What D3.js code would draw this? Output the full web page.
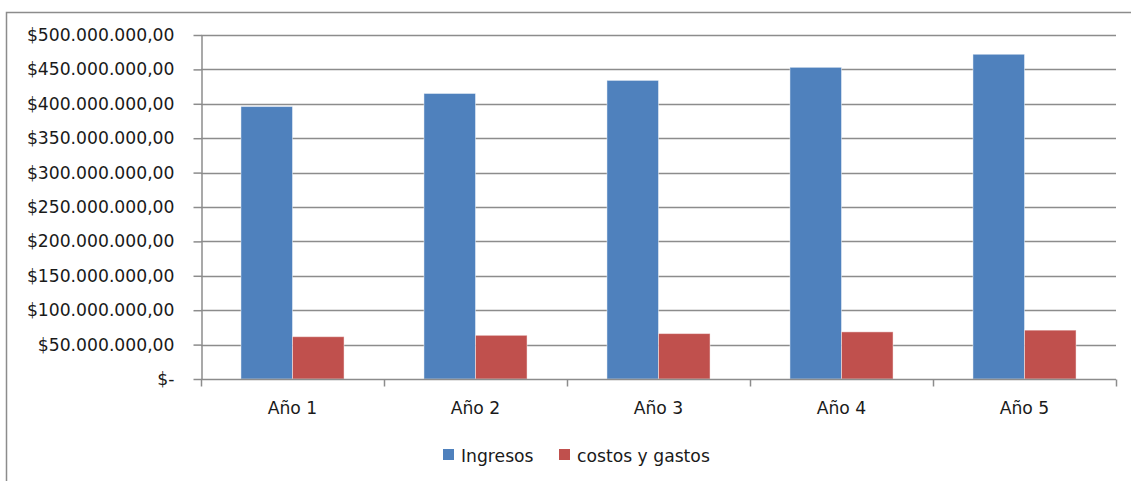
<!DOCTYPE html>
<html>
<head>
<meta charset="utf-8">
<script src="https://cdn.jsdelivr.net/npm/d3@7"></script>
<style>
  body { margin: 0; background: #fff; }
  text { font-family: "DejaVu Sans", sans-serif; fill: #1a1a1a; }
</style>
</head>
<body>
<div id="chart"></div>
<script>
    // data
    var years = ["Año 1", "Año 2", "Año 3", "Año 4", "Año 5"];
    var ingresos = [396000000, 415000000, 434000000, 453000000, 472000000];
    var costos = [61500000, 63500000, 66000000, 68500000, 71000000];
    var seriesNames = ["Ingresos", "costos y gastos"];
    var yTicks = [0, 50000000, 100000000, 150000000, 200000000, 250000000, 300000000, 350000000, 400000000, 450000000, 500000000];

    var colors = {"Ingresos": "#4f81bd", "costos y gastos": "#c0504d"};

    var data = years.map(function(y, i) {
        return {group: y, "Ingresos": ingresos[i], "costos y gastos": costos[i]};
    });

    var W = 1131, H = 481;
    var margin = {top: 35, right: 15, bottom: 102, left: 201};
    var fontSize = "17.2px";

    var svg = d3.select("#chart")
        .append("svg")
        .attr("width", W)
        .attr("height", H);

    // outer frame (only left and top show in the picture)
    svg.append("rect")
        .attr("x", 6.5).attr("y", 12.5)
        .attr("width", W + 20).attr("height", H + 20)
        .attr("fill", "none")
        .attr("stroke", "#8c8c8c")
        .attr("stroke-width", 1.5);

    var y = d3.scaleLinear()
        .domain([0, 500000000])
        .range([379, margin.top]);

    var x0 = d3.scaleBand()
        .domain(years)
        .range([margin.left, W - margin.right])
        .padding(0);

    // excel style gap width of 150%
    var bw = x0.bandwidth() / (2 + 1.55);
    var x1 = d3.scaleBand()
        .domain(seriesNames)
        .range([bw * 0.775, x0.bandwidth() - bw * 0.775]);

    // money format: $500.000.000,00 and $- at zero
    var fmt = function(v) {
        if (v === 0) return "$-";
        var s = d3.format(",.2f")(v);
        return "$" + s.replace(/,/g, "#").replace(".", ",").replace(/#/g, ".");
    };

    // gridlines
    svg.append("g")
        .selectAll("line")
        .data(yTicks.filter(function(d) { return d > 0; }))
        .enter().append("line")
        .attr("x1", margin.left)
        .attr("x2", W - margin.right)
        .attr("y1", function(d) { return Math.round(y(d)) + 0.5; })
        .attr("y2", function(d) { return Math.round(y(d)) + 0.5; })
        .attr("stroke", "#8c8c8c")
        .attr("stroke-width", 1.5);

    // bars
    svg.append("g")
        .selectAll("g")
        .data(data)
        .enter().append("g")
            .attr("transform", function(d) { return "translate(" + x0(d.group) + ",0)"; })
        .selectAll("rect")
        .data(function(d) { return seriesNames.map(function(k) { return {key: k, value: d[k]}; }); })
        .enter().append("rect")
            .attr("x", function(d) { return x1(d.key); })
            .attr("y", function(d) { return y(d.value); })
            .attr("width", x1.bandwidth())
            .attr("height", function(d) { return y(0) - y(d.value); })
            .attr("fill", function(d) { return colors[d.key]; })
            .attr("stroke", "rgba(255,255,255,0.45)")
            .attr("stroke-width", 1);

    // y axis
    var yAxis = svg.append("g")
        .attr("transform", "translate(" + (margin.left + 0.5) + ",0)")
        .call(d3.axisLeft(y)
            .tickValues(yTicks)
            .tickFormat(fmt)
            .tickSize(8)
            .tickSizeOuter(0)
            .tickPadding(19));
    yAxis.select(".domain").attr("stroke", "#8c8c8c").attr("stroke-width", 1.5);
    yAxis.selectAll(".tick line").attr("stroke", "#8c8c8c").attr("stroke-width", 1.5);
    yAxis.selectAll("text")
        .style("font-family", "'DejaVu Sans', sans-serif")
        .style("font-size", fontSize)
        .attr("fill", "#1a1a1a");

    // x axis with ticks on category boundaries
    var xAxisG = svg.append("g")
        .attr("transform", "translate(0," + (Math.round(y(0)) + 0.5) + ")");
    xAxisG.append("line")
        .attr("x1", margin.left).attr("x2", W - margin.right)
        .attr("stroke", "#8c8c8c").attr("stroke-width", 1.5);
    xAxisG.selectAll(".xtick")
        .data(years.concat(["end"]))
        .enter().append("line")
        .attr("x1", function(d, i) { return (i < years.length ? x0(d) : W - margin.right) + 0.5; })
        .attr("x2", function(d, i) { return (i < years.length ? x0(d) : W - margin.right) + 0.5; })
        .attr("y1", 0).attr("y2", 7)
        .attr("stroke", "#8c8c8c").attr("stroke-width", 1.5);
    xAxisG.selectAll(".xlabel")
        .data(years)
        .enter().append("text")
        .attr("x", function(d) { return x0(d) + x0.bandwidth() / 2; })
        .attr("y", 34)
        .attr("text-anchor", "middle")
        .style("font-size", fontSize)
        .text(function(d) { return d; });

    // legend
    var legendX = [443, 559];
    var legend = svg.append("g")
        .selectAll("g")
        .data(seriesNames)
        .enter().append("g")
        .attr("transform", function(d, i) { return "translate(" + legendX[i] + ",449)"; });
    legend.append("rect")
        .attr("width", 11).attr("height", 11)
        .attr("fill", function(d) { return colors[d]; });
    legend.append("text")
        .attr("x", 18)
        .attr("y", 13)
        .style("font-size", fontSize)
        .text(function(d) { return d; });
</script>
</body>
</html>
